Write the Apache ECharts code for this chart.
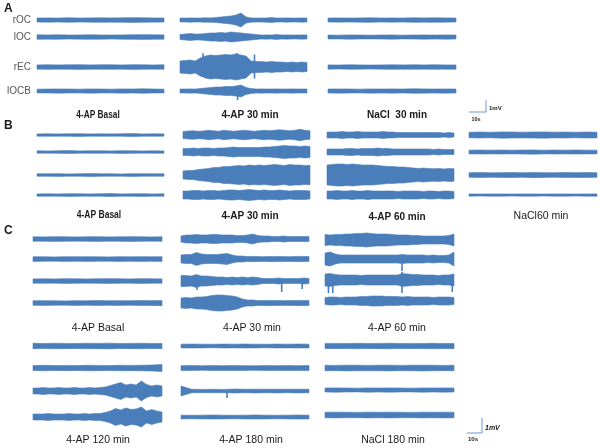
<!DOCTYPE html>
<html>
<head>
<meta charset="utf-8">
<title>EEG traces</title>
<script src="https://cdn.jsdelivr.net/npm/echarts@6/dist/echarts.min.js"></script>
<style>
  html, body { margin: 0; padding: 0; background: #fff; }
  #chart { width: 600px; height: 448px; }
</style>
</head>
<body>
<div id="chart"></div>
<script>
// half-amplitude envelope of every trace, in mV, sampled evenly over a 75 s sweep
const channels = ['rOC', 'lOC', 'rEC', 'lOCB'];

const A_basal = [
  [0.16, 0.17, 0.16, 0.18, 0.16, 0.17, 0.18, 0.17, 0.18, 0.19, 0.18, 0.17, 0.16],
  [0.18, 0.17, 0.18, 0.16, 0.17, 0.18, 0.17, 0.16, 0.17, 0.18, 0.19, 0.18, 0.17],
  [0.17, 0.18, 0.17, 0.18, 0.19, 0.17, 0.18, 0.18, 0.17, 0.19, 0.18, 0.17, 0.18],
  [0.15, 0.16, 0.17, 0.16, 0.15, 0.17, 0.16, 0.15, 0.17, 0.16, 0.18, 0.16, 0.15]
];
const A_30 = [
  [0.16, 0.16, 0.17, 0.16, 0.16, 0.18, 0.17, 0.2, 0.24, 0.28, 0.32, 0.4, 0.56, 0.24, 0.17, 0.16, 0.16, 0.17, 0.2, 0.16, 0.16, 0.17, 0.16, 0.16, 0.17, 0.16],
  [0.2, 0.24, 0.28, 0.24, 0.24, 0.28, 0.32, 0.32, 0.36, 0.32, 0.4, 0.36, 0.32, 0.28, 0.24, 0.2, 0.16, 0.17, 0.16, 0.2, 0.16, 0.17, 0.16, 0.16, 0.17, 0.16],
  [0.48, 0.52, 0.56, 0.48, 0.72, 0.88, 0.96, 0.92, 0.96, 1.0, 0.96, 1.04, 0.96, 0.88, 0.48, 0.44, 0.44, 0.4, 0.44, 0.4, 0.4, 0.36, 0.4, 0.36, 0.4, 0.36],
  [0.16, 0.16, 0.17, 0.16, 0.2, 0.24, 0.28, 0.32, 0.32, 0.36, 0.36, 0.4, 0.48, 0.28, 0.2, 0.16, 0.17, 0.16, 0.16, 0.17, 0.16, 0.16, 0.17, 0.16, 0.16, 0.16]
];
const A_30_spikes = [[], [], [[13.6, 1.1], [33.7, 1.12], [44, 1.0], [44, -0.92]], [[34, -0.72]]];
const A_nacl30 = [
  [0.16, 0.17, 0.16, 0.17, 0.18, 0.16, 0.17, 0.16, 0.18, 0.17, 0.18, 0.17, 0.16],
  [0.16, 0.15, 0.17, 0.16, 0.15, 0.16, 0.17, 0.15, 0.16, 0.17, 0.16, 0.17, 0.16],
  [0.17, 0.16, 0.18, 0.17, 0.16, 0.17, 0.18, 0.17, 0.18, 0.17, 0.18, 0.17, 0.17],
  [0.16, 0.17, 0.16, 0.15, 0.17, 0.16, 0.17, 0.16, 0.18, 0.17, 0.16, 0.17, 0.16]
];

const B_basal = [
  [0.09, 0.1, 0.09, 0.1, 0.11, 0.09, 0.1, 0.09, 0.1, 0.12, 0.09, 0.1, 0.09],
  [0.1, 0.09, 0.1, 0.12, 0.09, 0.1, 0.1, 0.09, 0.11, 0.1, 0.09, 0.1, 0.09],
  [0.1, 0.1, 0.11, 0.09, 0.1, 0.12, 0.1, 0.1, 0.09, 0.11, 0.1, 0.1, 0.1],
  [0.09, 0.1, 0.09, 0.11, 0.1, 0.09, 0.1, 0.12, 0.09, 0.1, 0.11, 0.09, 0.1]
];
const B_30 = [
  [0.28, 0.32, 0.34, 0.3, 0.32, 0.38, 0.34, 0.3, 0.38, 0.34, 0.3, 0.34, 0.38, 0.34, 0.3, 0.34, 0.38, 0.34, 0.38, 0.42, 0.38, 0.34, 0.38, 0.46, 0.38, 0.34],
  [0.28, 0.28, 0.32, 0.28, 0.32, 0.32, 0.28, 0.32, 0.32, 0.36, 0.4, 0.36, 0.36, 0.36, 0.36, 0.36, 0.4, 0.4, 0.44, 0.48, 0.52, 0.48, 0.48, 0.44, 0.48, 0.44],
  [0.32, 0.36, 0.36, 0.44, 0.48, 0.52, 0.6, 0.6, 0.68, 0.68, 0.72, 0.76, 0.72, 0.8, 0.76, 0.8, 0.76, 0.8, 0.84, 0.8, 0.76, 0.84, 0.8, 0.8, 0.76, 0.78],
  [0.32, 0.32, 0.36, 0.36, 0.32, 0.36, 0.36, 0.32, 0.36, 0.4, 0.4, 0.36, 0.4, 0.44, 0.4, 0.36, 0.4, 0.36, 0.36, 0.4, 0.36, 0.32, 0.36, 0.36, 0.36, 0.32]
];
const B_60 = [
  [0.24, 0.24, 0.24, 0.28, 0.24, 0.24, 0.28, 0.24, 0.24, 0.24, 0.24, 0.28, 0.24, 0.24, 0.2, 0.2, 0.2, 0.2, 0.2, 0.2, 0.2, 0.2, 0.2, 0.16, 0.2, 0.16],
  [0.24, 0.24, 0.24, 0.24, 0.28, 0.28, 0.24, 0.28, 0.28, 0.28, 0.32, 0.28, 0.28, 0.24, 0.24, 0.24, 0.24, 0.24, 0.24, 0.24, 0.24, 0.2, 0.24, 0.2, 0.2, 0.2],
  [0.8, 0.84, 0.88, 0.88, 0.84, 0.88, 0.84, 0.8, 0.8, 0.8, 0.76, 0.72, 0.68, 0.68, 0.64, 0.64, 0.6, 0.56, 0.52, 0.56, 0.52, 0.5, 0.52, 0.48, 0.52, 0.5],
  [0.32, 0.32, 0.36, 0.32, 0.32, 0.36, 0.32, 0.32, 0.36, 0.32, 0.32, 0.32, 0.32, 0.32, 0.28, 0.32, 0.32, 0.32, 0.32, 0.28, 0.32, 0.32, 0.28, 0.32, 0.32, 0.28]
];
const B_nacl60 = [
  [0.22, 0.24, 0.22, 0.25, 0.24, 0.23, 0.24, 0.25, 0.23, 0.24, 0.22, 0.24, 0.23],
  [0.15, 0.16, 0.15, 0.16, 0.15, 0.16, 0.17, 0.15, 0.16, 0.15, 0.16, 0.15, 0.15],
  [0.18, 0.2, 0.18, 0.19, 0.2, 0.18, 0.21, 0.19, 0.18, 0.2, 0.19, 0.2, 0.18],
  [0.09, 0.08, 0.09, 0.09, 0.08, 0.09, 0.09, 0.08, 0.09, 0.09, 0.08, 0.09, 0.09]
];

const C_basal = [
  [0.18, 0.17, 0.19, 0.18, 0.17, 0.18, 0.19, 0.17, 0.18, 0.19, 0.18, 0.17, 0.18],
  [0.19, 0.18, 0.17, 0.19, 0.18, 0.19, 0.18, 0.17, 0.19, 0.18, 0.19, 0.18, 0.19],
  [0.17, 0.18, 0.17, 0.19, 0.18, 0.17, 0.18, 0.19, 0.18, 0.17, 0.19, 0.18, 0.17],
  [0.18, 0.19, 0.18, 0.17, 0.19, 0.18, 0.2, 0.18, 0.19, 0.18, 0.2, 0.19, 0.21]
];
const C_30 = [
  [0.24, 0.32, 0.32, 0.36, 0.32, 0.32, 0.36, 0.36, 0.32, 0.32, 0.32, 0.28, 0.28, 0.32, 0.4, 0.28, 0.24, 0.24, 0.2, 0.2, 0.24, 0.2, 0.2, 0.2, 0.2, 0.2],
  [0.32, 0.36, 0.36, 0.52, 0.4, 0.36, 0.36, 0.36, 0.4, 0.44, 0.32, 0.24, 0.24, 0.2, 0.21, 0.2, 0.19, 0.2, 0.21, 0.2, 0.2, 0.19, 0.2, 0.21, 0.2, 0.2],
  [0.44, 0.44, 0.4, 0.52, 0.4, 0.4, 0.36, 0.32, 0.32, 0.28, 0.32, 0.28, 0.32, 0.28, 0.32, 0.28, 0.2, 0.2, 0.2, 0.24, 0.2, 0.2, 0.2, 0.2, 0.24, 0.2],
  [0.4, 0.44, 0.4, 0.48, 0.48, 0.52, 0.6, 0.64, 0.64, 0.6, 0.56, 0.48, 0.32, 0.24, 0.24, 0.2, 0.2, 0.21, 0.2, 0.2, 0.19, 0.2, 0.2, 0.21, 0.2, 0.2]
];
const C_30_spikes = [[], [], [[9.4, -0.72], [59, -0.88], [71, -0.64]], []];
const C_60 = [
  [0.44, 0.4, 0.44, 0.44, 0.48, 0.48, 0.52, 0.52, 0.56, 0.52, 0.48, 0.48, 0.48, 0.44, 0.4, 0.4, 0.4, 0.36, 0.36, 0.32, 0.32, 0.32, 0.32, 0.32, 0.36, 0.48],
  [0.48, 0.56, 0.4, 0.32, 0.32, 0.32, 0.32, 0.32, 0.32, 0.32, 0.32, 0.32, 0.32, 0.32, 0.32, 0.36, 0.32, 0.32, 0.32, 0.32, 0.28, 0.32, 0.28, 0.28, 0.32, 0.56],
  [0.48, 0.52, 0.44, 0.4, 0.4, 0.4, 0.4, 0.36, 0.4, 0.4, 0.4, 0.4, 0.4, 0.4, 0.4, 0.52, 0.48, 0.44, 0.44, 0.4, 0.4, 0.4, 0.36, 0.4, 0.4, 0.48],
  [0.28, 0.32, 0.32, 0.28, 0.32, 0.32, 0.32, 0.36, 0.36, 0.4, 0.4, 0.4, 0.36, 0.36, 0.36, 0.32, 0.36, 0.32, 0.32, 0.32, 0.32, 0.28, 0.32, 0.32, 0.32, 0.28]
];
const C_60_spikes = [[], [[2, -0.56], [44.8, -0.96]], [[2, -1.04], [4.5, -1.04], [44.8, -1.04], [44.8, 0.64], [74, -0.96]], []];
const C_120 = [
  [0.22, 0.2, 0.22, 0.21, 0.2, 0.22, 0.21, 0.23, 0.2, 0.21, 0.22, 0.2, 0.21],
  [0.2, 0.22, 0.2, 0.21, 0.2, 0.22, 0.21, 0.2, 0.22, 0.21, 0.22, 0.24, 0.28],
  [0.24, 0.24, 0.28, 0.24, 0.24, 0.28, 0.24, 0.24, 0.28, 0.24, 0.24, 0.28, 0.24, 0.28, 0.32, 0.44, 0.56, 0.68, 0.48, 0.56, 0.48, 0.8, 0.52, 0.4, 0.48, 0.4],
  [0.24, 0.24, 0.24, 0.28, 0.24, 0.24, 0.24, 0.28, 0.24, 0.24, 0.28, 0.24, 0.28, 0.28, 0.36, 0.48, 0.68, 0.56, 0.72, 0.6, 0.64, 0.8, 0.48, 0.6, 0.48, 0.4]
];
const C_180 = [
  [0.15, 0.16, 0.15, 0.14, 0.16, 0.15, 0.16, 0.15, 0.14, 0.16, 0.15, 0.16, 0.15],
  [0.19, 0.2, 0.18, 0.2, 0.19, 0.2, 0.19, 0.18, 0.2, 0.19, 0.2, 0.19, 0.2],
  [0.4, 0.14, 0.13, 0.14, 0.13, 0.16, 0.14, 0.15, 0.14, 0.15, 0.14, 0.15, 0.14],
  [0.15, 0.14, 0.15, 0.16, 0.15, 0.14, 0.15, 0.16, 0.15, 0.14, 0.15, 0.16, 0.15]
];
const C_180_spikes = [[], [], [[27, -0.56]], []];
const C_nacl180 = [
  [0.2, 0.21, 0.2, 0.22, 0.2, 0.21, 0.22, 0.2, 0.21, 0.2, 0.22, 0.2, 0.21],
  [0.22, 0.21, 0.23, 0.22, 0.21, 0.22, 0.23, 0.21, 0.22, 0.23, 0.22, 0.21, 0.22],
  [0.16, 0.17, 0.16, 0.15, 0.17, 0.16, 0.17, 0.16, 0.15, 0.17, 0.16, 0.17, 0.16],
  [0.22, 0.23, 0.22, 0.21, 0.23, 0.22, 0.23, 0.22, 0.21, 0.23, 0.22, 0.23, 0.22]
];

// scale bar: 10 s by 1 mV
const scaleBar = [[0, 0], [10, 0], [10, 1]];

const BLUE = '#4a7ebb';
const FONT = '"Liberation Sans", Arial, sans-serif';
const SWEEP = 75;

// block layout (px), title font; sx squeezes the narrower "Basal" captions
const blocks = [
  { data: A_basal, left: 37, width: 127, rows: [20, 37, 67, 91], title: '4-AP Basal', tx: 98, ty: 115, font: 'bold 10px', sx: 0.83 },
  { data: A_30, spikes: A_30_spikes, left: 180, width: 127, rows: [20, 37, 67, 91], title: '4-AP 30 min', tx: 250, ty: 115, font: 'bold 10px' },
  { data: A_nacl30, left: 328, width: 128, rows: [20, 37, 67, 91], title: 'NaCl  30 min', tx: 397, ty: 115, font: 'bold 10px' },
  { data: B_basal, left: 37, width: 127, rows: [135, 152, 175, 195], title: '4-AP Basal', tx: 99, ty: 215, font: 'bold 10px', sx: 0.85 },
  { data: B_30, left: 183, width: 127, rows: [135, 152, 175, 195], title: '4-AP 30 min', tx: 250, ty: 216, font: 'bold 10px' },
  { data: B_60, left: 327, width: 127, rows: [135, 152, 175, 195], title: '4-AP 60 min', tx: 397, ty: 217, font: 'bold 10px' },
  { data: B_nacl60, left: 469, width: 128, rows: [135, 152, 175, 195], title: 'NaCl60 min', tx: 541, ty: 216, font: '10.5px' },
  { data: C_basal, left: 33, width: 129, rows: [239, 259, 281, 303], title: '4-AP Basal', tx: 98, ty: 328, font: '10.5px' },
  { data: C_30, spikes: C_30_spikes, left: 181, width: 128, rows: [239, 259, 281, 303], title: '4-AP 30 min', tx: 252, ty: 328, font: '10.5px' },
  { data: C_60, spikes: C_60_spikes, left: 325, width: 129, rows: [240, 259, 280, 301], title: '4-AP 60 min', tx: 397, ty: 328, font: '10.5px' },
  { data: C_120, left: 33, width: 129, rows: [346, 368, 391, 417], title: '4-AP 120 min', tx: 98, ty: 440, font: '10.5px' },
  { data: C_180, spikes: C_180_spikes, left: 181, width: 128, rows: [346, 368, 391, 417], title: '4-AP 180 min', tx: 251, ty: 440, font: '10.5px' },
  { data: C_nacl180, left: 325, width: 129, rows: [346, 368, 390, 415], title: 'NaCl 180 min', tx: 393, ty: 440, font: '10.5px' }
];

// draw the whole envelope of one trace as a single filled band
function band(params, api) {
  if (params.dataIndexInside !== 0) return;
  const n = params.dataInsideLength;
  const upper = [], lower = [];
  for (let i = 0; i < n; i++) {
    const t = api.value(0, i), a = api.value(1, i);
    upper.push(api.coord([t, a]));
    lower.unshift(api.coord([t, -a]));
  }
  return {
    type: 'polygon',
    shape: { points: upper.concat(lower) },
    style: { fill: BLUE, stroke: BLUE, lineWidth: 0.6 }
  };
}

function spike(params, api) {
  const p0 = api.coord([api.value(0), 0]);
  const p1 = api.coord([api.value(0), api.value(1)]);
  return {
    type: 'line',
    shape: { x1: p0[0], y1: p0[1], x2: p1[0], y2: p1[1] },
    style: { stroke: BLUE, lineWidth: 1.6 }
  };
}

const grid = [], xAxis = [], yAxis = [], series = [], graphic = [];

function addGrid(g, xmax, ymin, ymax) {
  const i = grid.length;
  grid.push(g);
  xAxis.push({ gridIndex: i, type: 'value', min: 0, max: xmax, show: false });
  yAxis.push({ gridIndex: i, type: 'value', min: ymin, max: ymax, show: false });
  return i;
}

blocks.forEach(b => {
  b.data.forEach((env, r) => {
    const gi = addGrid({ left: b.left, width: b.width, top: b.rows[r] - 20, height: 40 }, SWEEP, -1.6, 1.6);
    series.push({
      type: 'custom', xAxisIndex: gi, yAxisIndex: gi, silent: true, clip: false,
      renderItem: band,
      data: env.map((a, i) => [i * SWEEP / (env.length - 1), a])
    });
    const sp = b.spikes ? b.spikes[r] : [];
    if (sp.length) {
      series.push({
        type: 'custom', xAxisIndex: gi, yAxisIndex: gi, silent: true, clip: false,
        renderItem: spike, data: sp
      });
    }
  });
  graphic.push({
    type: 'text', x: b.tx, y: b.ty, scaleX: b.sx || 1,
    style: { text: b.title, align: 'center', verticalAlign: 'middle', fill: '#1a1a1a',
      font: b.font + ' ' + FONT }
  });
});

// scale bars
[{ left: 469, top: 100, width: 17, height: 12 }, { left: 467, top: 418, width: 15, height: 15 }].forEach(g => {
  const gi = addGrid(g, 10, 0, 1);
  series.push({
    type: 'line', xAxisIndex: gi, yAxisIndex: gi, data: scaleBar, symbol: 'none',
    clip: false, silent: true, lineStyle: { color: '#6a9ad6', width: 1 }
  });
});

function txt(text, x, y, font, extra) {
  graphic.push({
    type: 'text', x: x, y: y,
    style: Object.assign({ text: text, align: 'left', verticalAlign: 'middle', fill: '#1a1a1a', font: font + ' ' + FONT }, extra || {})
  });
}

txt('A', 4, 9, 'bold 12px');
txt('B', 4, 126, 'bold 12px');
txt('C', 4, 231, 'bold 12px');
[20, 37, 67, 91].forEach((y, i) => txt(channels[i], 31, y, '10px', { align: 'right', fill: '#555' }));
txt('1mV', 489, 108, 'bold 6px');
txt('10s', 476, 119, 'bold 5.5px', { align: 'center' });
txt('1mV', 485, 428, 'italic bold 7px');
txt('10s', 473, 439, 'bold 6px', { align: 'center' });

const chart = echarts.init(document.getElementById('chart'));
chart.setOption({
  animation: false,
  backgroundColor: '#fff',
  grid, xAxis, yAxis, series, graphic
});
</script>
</body>
</html>
